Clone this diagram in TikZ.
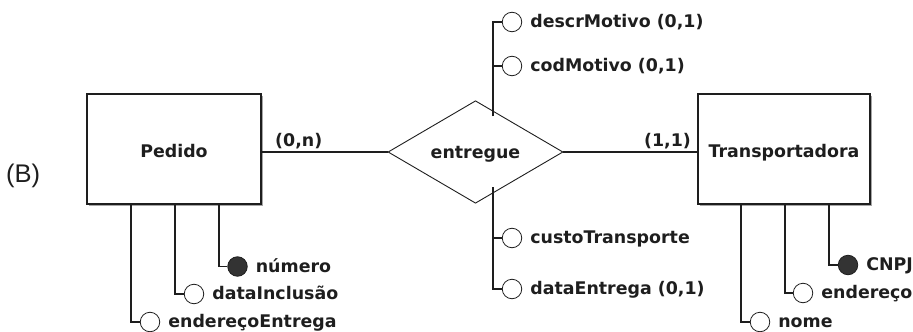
\documentclass[tikz,border=0pt]{standalone}
\usepackage{fontspec}
\setmainfont{DejaVu Sans}
\newfontfamily\arialf{Liberation Sans}
\usetikzlibrary{shapes.geometric,shadows}
\definecolor{ink}{HTML}{1E1E1E}
\begin{document}
\begin{tikzpicture}[x=1pt,y=-1pt,
  font=\fontsize{17.4}{20}\selectfont\bfseries,
  every node/.style={text=ink},
  ent/.style={draw=ink,line width=1.5pt,fill=white,minimum height=110pt,
    inner sep=0pt,text height=17pt,text depth=0pt,
    drop shadow={shadow xshift=2pt,shadow yshift=-2pt,fill=black,opacity=0.35}},
  rel/.style={draw=ink,line width=0.9pt,shape=diamond,fill=white,
    minimum width=175pt,minimum height=88pt,inner sep=0pt,
    text height=13pt,text depth=0pt},
  conn/.style={draw=ink,line width=1.1pt},
  att/.style={circle,draw=ink,line width=0.8pt,fill=white,minimum size=19.5pt,inner sep=0pt},
  key/.style={att,fill=black!80},
  lab/.style={inner sep=0pt,text height=13pt,text depth=2pt},
  card/.style={inner sep=0pt,anchor=base}
]
\useasboundingbox (0,0) rectangle (913,332);

% label (B)
\node[font=\arialf\fontsize{25.5}{30}\selectfont,anchor=base west,inner sep=0pt] (B) at (6,182.5) {(B)};

% entities and relationship
\node[ent,minimum width=174pt] (pedido) at (174,149) {Pedido};
\node[ent,minimum width=172pt] (transp) at (784,149) {Transportadora};
\node[rel] (rel) at (475.5,152) {entregue};

\draw[conn] (rel.west -| pedido.east) -- (rel.west);
\draw[conn] (rel.east) -- (rel.east -| transp.west);
\node[card,anchor=base west] (c1) at (275,146.7) {(0,n)};
\node[card,anchor=base east] (c2) at (691,146.7) {(1,1)};

% relationship attributes
\coordinate (rt) at (493,116);
\coordinate (rb) at (493,187);
\node[att,label={[lab,label distance=8pt]right:descrMotivo (0,1)}] (descrC) at (512,22) {};
\node[att,label={[lab,label distance=8pt]right:codMotivo (0,1)}] (codC) at (512,66) {};
\node[att,label={[lab,label distance=8pt]right:custoTransporte}] (custoC) at (512,238) {};
\node[att,label={[lab,label distance=8pt]right:dataEntrega (0,1)}] (dataEC) at (512,289) {};
\draw[conn] (rt) |- (descrC.west);
\draw[conn] (rt) |- (codC.west);
\draw[conn] (rb) |- (custoC.west);
\draw[conn] (rb) |- (dataEC.west);

% Pedido attributes
\node[key,label={[lab,label distance=8pt]right:número}] (numC) at (237.5,266.5) {};
\node[att,label={[lab,label distance=8pt]right:dataInclusão}] (dataIC) at (194,294) {};
\node[att,label={[lab,label distance=8pt]right:endereçoEntrega}] (endEC) at (150,322) {};
\draw[conn] ([xshift=45pt]pedido.south) |- (numC.west);
\draw[conn] ([xshift=1pt]pedido.south) |- (dataIC.west);
\draw[conn] ([xshift=-43pt]pedido.south) |- (endEC.west);

% Transportadora attributes
\node[key,label={[lab,label distance=8pt]right:CNPJ}] (cnpjC) at (848,265) {};
\node[att,label={[lab,label distance=8pt]right:endereço}] (endTC) at (803,293) {};
\node[att,label={[lab,label distance=8pt]right:nome}] (nomeC) at (760,322) {};
\draw[conn] ([xshift=45pt]transp.south) |- (cnpjC.west);
\draw[conn] ([xshift=1pt]transp.south) |- (endTC.west);
\draw[conn] ([xshift=-43pt]transp.south) |- (nomeC.west);
\end{tikzpicture}
\end{document}
